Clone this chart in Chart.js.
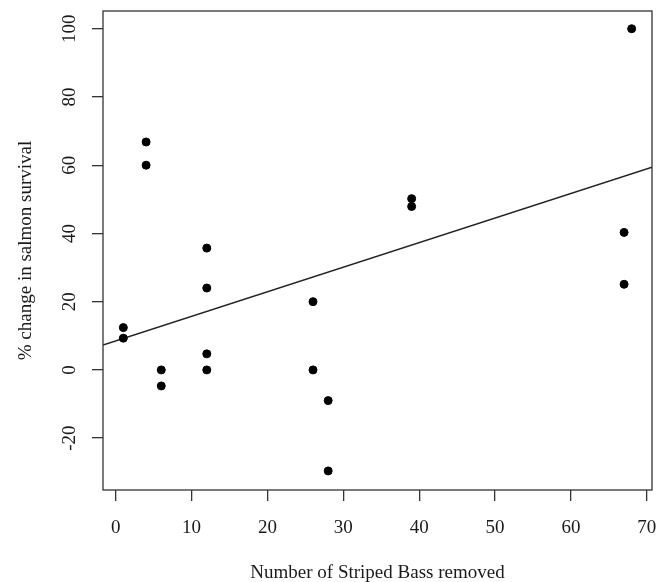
<!DOCTYPE html>
<html>
<head>
<meta charset="utf-8">
<script src="https://cdn.jsdelivr.net/npm/chart.js"></script>
<style>
  body { margin: 0; background: #fff; }
  #wrap { width: 666px; height: 582px; }
</style>
</head>
<body>
<div id="wrap"><canvas id="chart" width="666" height="582"></canvas></div>
<script>
// ==========================
// DATA
// ==========================
const bassRemoved = [1, 1, 4, 4, 6, 6, 12, 12, 12, 12, 26, 26, 28, 28, 39, 39, 67, 67, 68];
const survivalChange = [12.4, 9.3, 66.8, 60, 0, -4.7, 35.7, 24, 4.7, 0, 20, 0, -9, -29.6, 50.2, 47.9, 40.3, 25.1, 100];

// fitted line, ends at the edges of the plot box
const fitX = [-1.68, 70.68];
const fitY = [7.3, 59.4];

const xTicks = [0, 10, 20, 30, 40, 50, 60, 70];
const yTicks = [-20, 0, 20, 40, 60, 80, 100];

const ink = "#1a1a1a";
const serif = "'Liberation Serif', 'Times New Roman', serif";

// box round the plot area, like R's box()
const boxPlugin = {
  id: "box",
  afterDraw(chart) {
    const { ctx, chartArea: a } = chart;
    ctx.save();
    ctx.strokeStyle = "#333";
    ctx.lineWidth = 1.3;
    ctx.strokeRect(a.left, a.top, a.right - a.left, a.bottom - a.top);
    ctx.restore();
  },
};

new Chart(document.getElementById("chart"), {
  type: "scatter",
  data: {
    datasets: [
      {
        data: bassRemoved.map((x, i) => ({ x, y: survivalChange[i] })),
        backgroundColor: "#000",
        borderColor: "#000",
        pointRadius: 4,
      },
      {
        type: "line",
        data: fitX.map((x, i) => ({ x, y: fitY[i] })),
        borderColor: "#222",
        borderWidth: 1.4,
        pointRadius: 0,
        fill: false,
      },
    ],
  },
  options: {
    responsive: false,
    animation: false,
    layout: { padding: { top: 11, right: 14, left: 0, bottom: 0 } },
    plugins: {
      legend: { display: false },
      tooltip: { enabled: false },
    },
    scales: {
      x: {
        type: "linear",
        min: -1.68,
        max: 70.68,
        afterBuildTicks: (axis) => { axis.ticks = xTicks.map((v) => ({ value: v })); },
        afterFit: (axis) => {
          axis.height = 92;
          axis.paddingLeft = 0;
          axis.paddingRight = 0;
        },
        grid: { drawOnChartArea: false, drawTicks: true, tickLength: 11, color: "#333", lineWidth: 1.3 },
        border: { display: false },
        ticks: { color: ink, font: { family: serif, size: 19 }, padding: 16, maxRotation: 0, autoSkip: false },
        title: {
          display: true,
          text: "Number of Striped Bass removed",
          color: ink,
          font: { family: serif, size: 19 },
          padding: { top: 0, bottom: -2 },
        },
      },
      y: {
        type: "linear",
        min: -35.2,
        max: 105.2,
        afterBuildTicks: (axis) => { axis.ticks = yTicks.map((v) => ({ value: v })); },
        afterFit: (axis) => {
          axis.width = 103;
          axis.paddingTop = 0;
          axis.paddingBottom = 0;
        },
        grid: { drawOnChartArea: false, drawTicks: true, tickLength: 11, color: "#333", lineWidth: 1.3 },
        border: { display: false },
        ticks: {
          color: ink,
          font: { family: serif, size: 19 },
          padding: 8,
          minRotation: 90,
          maxRotation: 90,
          crossAlign: "center",
          autoSkip: false,
        },
        title: {
          display: true,
          text: "% change in salmon survival",
          color: ink,
          font: { family: serif, size: 19 },
          padding: { top: 15, bottom: 0 },
        },
      },
    },
  },
  plugins: [boxPlugin],
});
</script>
</body>
</html>
